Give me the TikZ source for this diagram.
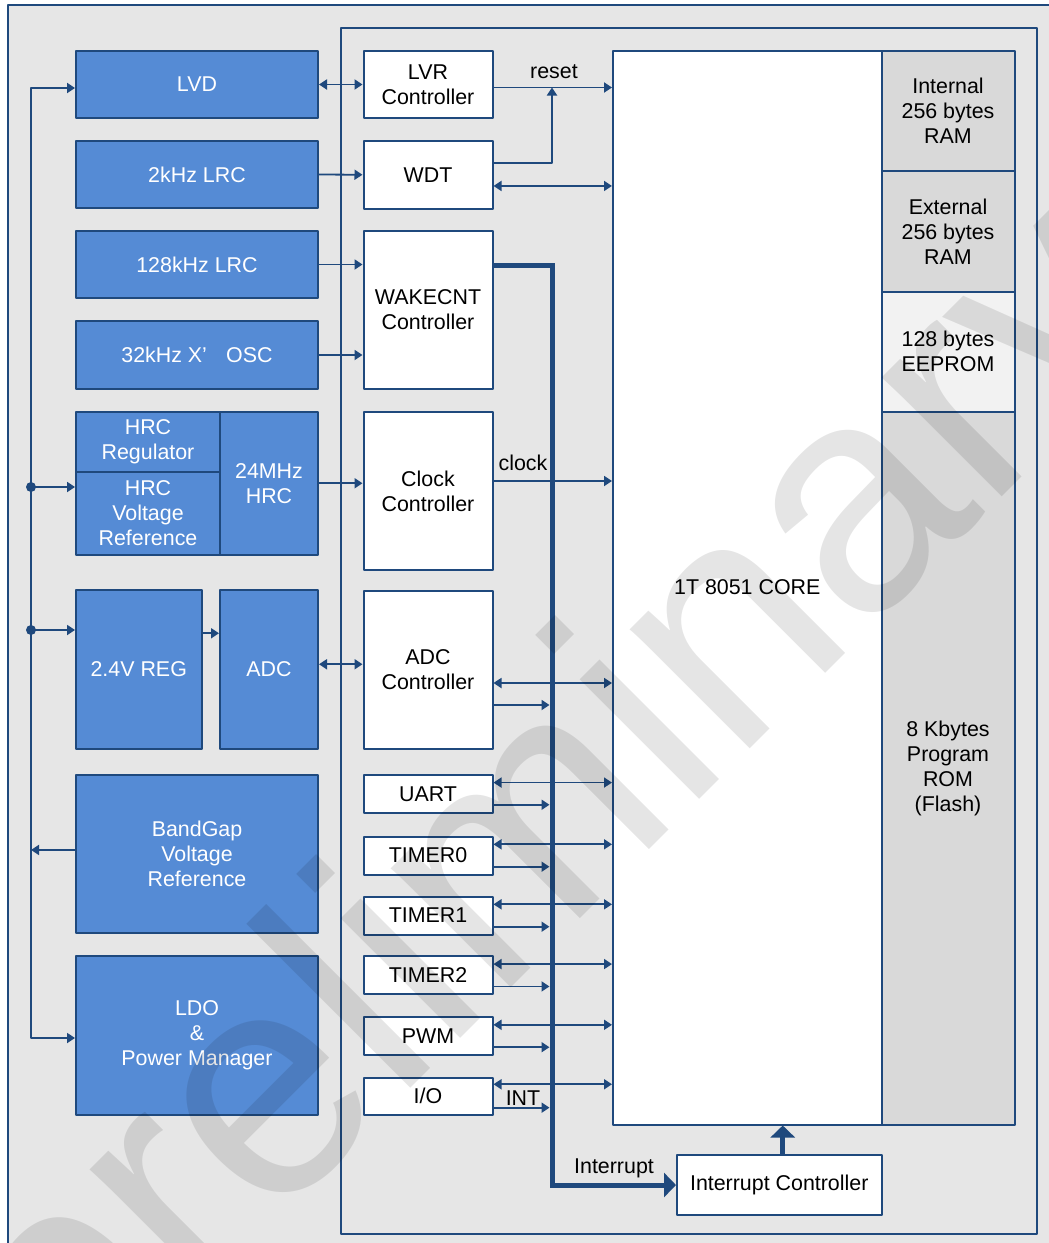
\documentclass[tikz,border=0pt]{standalone}
\usepackage{fontspec}
\setmainfont{Liberation Sans}
\usetikzlibrary{arrows.meta}
\definecolor{navy}{RGB}{31,73,125}
\definecolor{chipblue}{RGB}{85,139,213}
\definecolor{bggray}{RGB}{230,230,230}
\definecolor{memgray}{RGB}{217,217,217}
\definecolor{eegray}{RGB}{242,242,242}

\begin{document}
\begin{tikzpicture}[line cap=round,line join=round,>={Triangle[length=4pt,width=5pt]},x=0.5pt,y=-0.5pt,
  every node/.style={inner sep=0pt,align=center,font=\fontsize{10.7}{12.5}\selectfont},
  blueblk/.style={draw=navy,line width=1pt,fill=chipblue,text=white},
  whiteblk/.style={draw=navy,line width=1pt,fill=white},
  memblk/.style={draw=navy,line width=1pt,fill=memgray},
  wire/.style={draw=navy,line width=0.9pt},
  bigwire/.style={draw=navy,line width=2.5pt,line cap=butt,line join=miter,>={Triangle[length=6pt,width=12pt]}}]
\useasboundingbox (0,0) rectangle (1049,1243);
\clip (0,0) rectangle (1049,1243);
\draw[navy,line width=1pt,fill=bggray] (8,5) rectangle (1080,1260);
\draw[navy,line width=1pt] (341,28) rectangle (1036.5,1233.5);
% analog blocks
\node[blueblk,minimum width=121pt,minimum height=33.5pt] (lvd) at (197,84.5) {LVD};
\node[blueblk,minimum width=121pt,minimum height=33.5pt] (lrc2) at (197,174.5) {2kHz LRC};
\node[blueblk,minimum width=121pt,minimum height=33.5pt] (lrc128) at (197,264.5) {128kHz LRC};
\node[blueblk,minimum width=121pt,minimum height=34pt] (osc32) at (197,355) {32kHz X’\hspace{0.9em}OSC};
\node[blueblk,minimum width=72pt,minimum height=29.75pt] (hrcreg) at (148,441.75) {HRC\\Regulator};
\node[blueblk,minimum width=72pt,minimum height=41.5pt] (hrcref) at (148,513) {HRC\\Voltage\\Reference};
\node[blueblk,minimum width=49pt,minimum height=71.25pt] (hrc24) at (269,483.25) {24MHz\\HRC};
\node[blueblk,minimum width=62.75pt,minimum height=79.25pt] (reg24) at (138.75,669.25) {2.4V REG};
\node[blueblk,minimum width=49pt,minimum height=79.25pt] (adc) at (269,669.25) {ADC};
\node[blueblk,minimum width=121pt,minimum height=79.25pt] (bgap) at (197,853.75) {BandGap\\Voltage\\Reference};
\node[blueblk,minimum width=121pt,minimum height=79.75pt] (ldo) at (197,1035.25) {LDO\\\&\\Power Manager};
% controllers and peripherals
\node[whiteblk,minimum width=64.5pt,minimum height=33.5pt] (lvr) at (428,84.5) {LVR\\Controller};
\node[whiteblk,minimum width=64.5pt,minimum height=33.75pt] (wdt) at (428,174.75) {WDT};
\node[whiteblk,minimum width=64.5pt,minimum height=79pt] (wake) at (428,310) {WAKECNT\\Controller};
\node[whiteblk,minimum width=64.5pt,minimum height=79pt] (clkc) at (428,491) {Clock\\Controller};
\node[whiteblk,minimum width=64.5pt,minimum height=79pt] (adcc) at (428,669.5) {ADC\\Controller};
\node[whiteblk,minimum width=64.5pt,minimum height=18.75pt] (uart) at (428,793.75) {UART};
\node[whiteblk,minimum width=64.5pt,minimum height=19pt] (tmr0) at (428,855.5) {TIMER0};
\node[whiteblk,minimum width=64.5pt,minimum height=19pt] (tmr1) at (428,915.5) {TIMER1};
\node[whiteblk,minimum width=64.5pt,minimum height=19pt] (tmr2) at (428,975.25) {TIMER2};
\node[whiteblk,minimum width=64.5pt,minimum height=19pt] (pwm) at (428,1036) {PWM};
\node[whiteblk,minimum width=64.5pt,minimum height=18.75pt] (gpio) at (428,1096.25) {I/O};
% core and memories
\node[whiteblk,minimum width=134.25pt,minimum height=537pt] (core) at (747.25,587.5) {1T 8051 CORE};
\node[memblk,minimum width=66.5pt,minimum height=60.25pt] (iram) at (948,110.75) {Internal\\256 bytes\\RAM};
\node[memblk,minimum width=66.5pt,minimum height=60.25pt] (xram) at (948,231.25) {External\\256 bytes\\RAM};
\node[memblk,fill=eegray,minimum width=66.5pt,minimum height=60pt] (eeprom) at (948,351.5) {128 bytes\\EEPROM};
\node[memblk,minimum width=66.5pt,minimum height=356.5pt] (rom) at (948,768) {8 Kbytes\\Program\\ROM\\(Flash)};
\node[whiteblk,minimum width=102.25pt,minimum height=30pt] (ictl) at (779.25,1185) {Interrupt Controller};
% bus points
\coordinate (pbustop) at (31,88);
\coordinate (pbusbot) at (31,1038);
\coordinate (jhrc) at (31,487);
\coordinate (jreg) at (31,630);
\coordinate (pbus) at (31,0);
\coordinate (busx) at (552,0);
\coordinate (busin) at (549.5,0);
\coordinate (rstjoin) at (552,87.5);
% power lines
\draw[wire,<->] (lvd.west |- pbustop) -| (pbusbot) -- (pbusbot -| ldo.west);
\draw[wire,->] (jhrc) -- (jhrc -| hrcref.west);
\fill[navy] (jhrc) circle (2.5pt);
\draw[wire,->] (jreg) -- (jreg -| reg24.west);
\fill[navy] (jreg) circle (2.5pt);
\draw[wire,->] ([yshift=1.9pt]bgap.west) -- ([yshift=1.9pt]bgap.west -| pbus);
% clocks and controllers
\draw[wire,<->] (lvd.east) -- (lvr.west);
\draw[wire,->] ([yshift=-1.5pt]lvr.east) -- ([yshift=-1.5pt]lvr.east -| core.west);
\node (rstlbl) at (554,72) {reset};
\draw[wire,->] ([yshift=5.75pt]wdt.east) -| (rstjoin);
\draw[wire,<->] ([yshift=-5.6pt]wdt.east) -- ([yshift=-5.6pt]wdt.east -| core.west);
\draw[wire,->] (lrc2.east) -- (wdt.west);
\draw[wire,->] (lrc128.east) -- (lrc128.east -| wake.west);
\draw[wire,->] (osc32.east) -- (osc32.east -| wake.west);
\draw[wire,->] (hrc24.east) -- (hrc24.east -| clkc.west);
\draw[wire,->] ([yshift=5pt]clkc.east) -- ([yshift=5pt]clkc.east -| core.west);
\node (clklbl) at (523,463) {clock};
\draw[wire,->] ([yshift=18pt]reg24.east) -- ([yshift=18pt]reg24.east -| adc.west);
\draw[wire,<->] ([yshift=2.5pt]adc.east) -- ([yshift=2.5pt]adc.east -| adcc.west);
\draw[wire,<->] ([yshift=-6.75pt]adcc.east) -- ([yshift=-6.75pt]adcc.east -| core.west);
\draw[wire,->] ([yshift=-17.75pt]adcc.east) -- ([yshift=-17.75pt]adcc.east -| busin);
% peripherals
\draw[wire,<->] ([yshift=5.6pt]uart.east) -- ([yshift=5.6pt]uart.east -| core.west);
\draw[wire,->] ([yshift=-5.5pt]uart.east) -- ([yshift=-5.5pt]uart.east -| busin);
\draw[wire,<->] ([yshift=5.6pt]tmr0.east) -- ([yshift=5.6pt]tmr0.east -| core.west);
\draw[wire,->] ([yshift=-5.6pt]tmr0.east) -- ([yshift=-5.6pt]tmr0.east -| busin);
\draw[wire,<->] ([yshift=5.6pt]tmr1.east) -- ([yshift=5.6pt]tmr1.east -| core.west);
\draw[wire,->] ([yshift=-5.6pt]tmr1.east) -- ([yshift=-5.6pt]tmr1.east -| busin);
\draw[wire,<->] ([yshift=5.6pt]tmr2.east) -- ([yshift=5.6pt]tmr2.east -| core.west);
\draw[wire,->] ([yshift=-5.6pt]tmr2.east) -- ([yshift=-5.6pt]tmr2.east -| busin);
\draw[wire,<->] ([yshift=5.6pt]pwm.east) -- ([yshift=5.6pt]pwm.east -| core.west);
\draw[wire,->] ([yshift=-5.6pt]pwm.east) -- ([yshift=-5.6pt]pwm.east -| busin);
\draw[wire,<->] ([yshift=6pt]gpio.east) -- ([yshift=6pt]gpio.east -| core.west);
\draw[wire,->] ([yshift=-5.7pt]gpio.east) -- ([yshift=-5.7pt]gpio.east -| busin);
\node (intlbl) at (523,1098) {INT};
% interrupt path
\draw[bigwire,->] ([yshift=22.5pt]wake.east) -| (ictl.west -| busx) -- (ictl.west);
\node (irqlbl) at (614,1168) {Interrupt};
\draw[bigwire,->] ([xshift=1.75pt]ictl.north) -- ([xshift=1.75pt]ictl.north |- core.south);
% watermark
\node[rotate=45,anchor=base west,text=black,text opacity=0.1,font=\fontsize{160}{160}\selectfont] (wmark) at (68,1431) {preliminary};
\end{tikzpicture}
\end{document}
